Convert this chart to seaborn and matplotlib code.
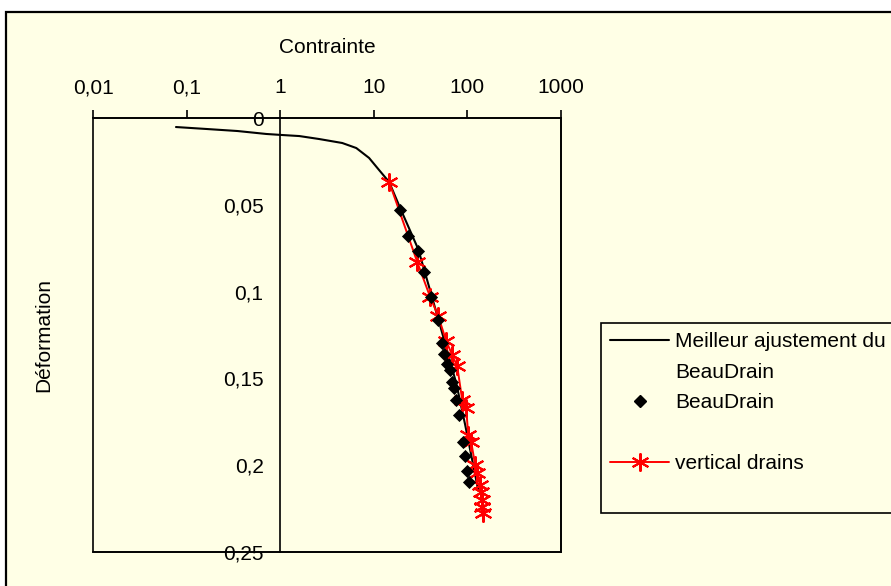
import matplotlib
matplotlib.use("Agg")
import matplotlib.pyplot as plt
import matplotlib.patches as mpatches
from matplotlib.lines import Line2D
import pandas as pd
import seaborn as sns

# Meilleur ajustement du BeauDrain (courbe)
fit_contrainte = [0.077, 0.16, 0.35, 0.71, 1.05, 1.6, 2.6, 4.6, 6.5, 8.9, 11.4, 14.6,
                  19.1, 29.8, 41.0, 56.5, 75.9, 94.7, 112.5, 130.4]
fit_deformation = [0.0052, 0.0063, 0.0075, 0.0092, 0.0098, 0.0104, 0.0121, 0.0144, 0.0173,
                   0.0230, 0.0300, 0.0369, 0.0518, 0.0755, 0.1014, 0.1279, 0.1527, 0.1768,
                   0.1970, 0.2143]

# BeauDrain (points)
bd_contrainte = [19.1, 23.3, 29.8, 34.6, 41.0, 48.8, 53.8, 56.5, 60.8, 65.5, 68.8, 72.3,
                 75.9, 81.7, 90.2, 94.7, 99.5, 104.5]
bd_deformation = [0.0530, 0.0680, 0.0766, 0.0887, 0.1031, 0.1164, 0.1296, 0.1359, 0.1417,
                  0.1452, 0.1521, 0.1555, 0.1624, 0.1711, 0.1866, 0.1947, 0.2033, 0.2097]

# vertical drains
vd_contrainte = [14.6, 29.1, 40.0, 48.8, 59.4, 68.8, 77.8, 88.0, 97.1, 102.0, 109.8, 121.0,
                 127.0, 137.0, 140.0, 144.0, 144.0, 147.5]
vd_deformation = [0.0369, 0.0829, 0.1031, 0.1141, 0.1285, 0.1365, 0.1429, 0.1624, 0.1671,
                  0.1826, 0.1866, 0.1999, 0.2045, 0.2114, 0.2154, 0.2200, 0.2241, 0.2275]

x_ticks = [0.01, 0.1, 1, 10, 100, 1000]
x_tick_labels = ["0,01", "0,1", "1", "10", "100", "1000"]
y_ticks = [0, 0.05, 0.1, 0.15, 0.2, 0.25]
y_tick_labels = ["0", "0,05", "0,1", "0,15", "0,2", "0,25"]

fit_df = pd.DataFrame({"Contrainte": fit_contrainte, "Déformation": fit_deformation})
bd_df = pd.DataFrame({"Contrainte": bd_contrainte, "Déformation": bd_deformation})
vd_df = pd.DataFrame({"Contrainte": vd_contrainte, "Déformation": vd_deformation})

sns.set_theme(style="white")
plt.rcParams["font.family"] = ["Liberation Sans", "DejaVu Sans"]
plt.rcParams["text.color"] = "black"
FS = 15
cream = "#ffffe6"
star = (6, 2, 0)

W, H = 891, 586
fig = plt.figure(figsize=(W / 100, H / 100), dpi=100, facecolor="white")

# fond crème avec cadre
fig.patches.append(mpatches.Rectangle((6 / W, -0.1), 1.2, 1 - 12 / H + 0.1,
                                      transform=fig.transFigure, facecolor=cream,
                                      edgecolor="black", lw=1.6, zorder=-5))

ax = fig.add_axes([93 / W, 1 - 552 / H, (561 - 93) / W, (552 - 118) / H])
ax.set_facecolor("none")

sns.lineplot(data=fit_df, x="Contrainte", y="Déformation", ax=ax, color="black",
             lw=1.5, sort=False, estimator=None, legend=False)
sns.lineplot(data=vd_df, x="Contrainte", y="Déformation", ax=ax, color="red",
             lw=1.4, sort=False, estimator=None, legend=False,
             marker=star, markersize=13, markeredgecolor="red", markeredgewidth=1.5)
sns.scatterplot(data=bd_df, x="Contrainte", y="Déformation", ax=ax, color="black",
                marker="D", s=45, edgecolor="black", linewidth=0, legend=False, zorder=3)

ax.set_xscale("log")
ax.set_xlim(0.01, 1000)
ax.set_ylim(0.25, 0)
ax.xaxis.set_ticks_position("top")
ax.xaxis.set_label_position("top")
ax.set_xticks(x_ticks, x_tick_labels)
ax.xaxis.set_minor_locator(matplotlib.ticker.NullLocator())
ax.set_yticks(y_ticks, y_tick_labels)
ax.tick_params(axis="x", direction="out", length=6, width=1.2, color="black",
               labelsize=FS, pad=9, labelcolor="black")
ax.tick_params(axis="y", direction="out", length=6, width=1.2, color="black",
               labelsize=FS, pad=6, labelcolor="black")

ax.spines["left"].set_position(("data", 1))
for s in ax.spines.values():
    s.set_color("black")
    s.set_linewidth(1.2)
ax.add_patch(mpatches.Rectangle((0, 0), 1, 1, transform=ax.transAxes, fill=False,
                                edgecolor="black", lw=1.2, clip_on=False))

ax.set_xlabel("Contrainte", fontsize=FS, color="black")
ax.set_ylabel("Déformation", fontsize=FS, color="black")
ax.xaxis.set_label_coords(0.5, 1.15)
ax.yaxis.set_label_coords(-0.085, 0.5)

handles = [
    Line2D([], [], color="black", lw=1.5),
    Line2D([], [], linestyle="none"),
    Line2D([], [], color="black", marker="D", linestyle="none", markersize=6.5),
    Line2D([], [], linestyle="none"),
    Line2D([], [], color="red", lw=1.4, marker=star, markersize=13,
           markeredgecolor="red", markeredgewidth=1.5),
    Line2D([], [], linestyle="none"),
]
labels = ["Meilleur ajustement du", "BeauDrain", "BeauDrain", "", "vertical drains", ""]
leg = fig.legend(handles, labels, loc="upper left", bbox_to_anchor=(601 / W, 1 - 323 / H),
                 bbox_transform=fig.transFigure, borderaxespad=0, fontsize=FS,
                 frameon=True, fancybox=False, edgecolor="black", facecolor=cream,
                 framealpha=1, handlelength=2.8, handletextpad=0.3, labelspacing=0.55,
                 borderpad=0.45, numpoints=1, labelcolor="black")
leg.get_frame().set_linewidth(1.2)

fig.savefig("out.png", dpi=100, facecolor="white")
